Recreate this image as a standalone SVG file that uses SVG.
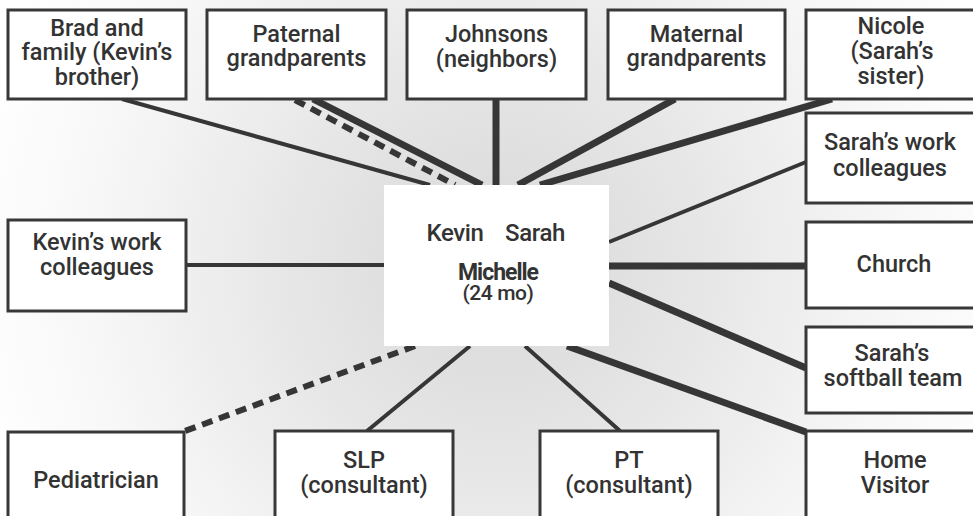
<svg xmlns="http://www.w3.org/2000/svg" width="973" height="516" viewBox="0 0 973 516">
<defs>
<radialGradient id="bg" gradientUnits="userSpaceOnUse" cx="497" cy="265" r="540">
<stop offset="0" stop-color="#d8d8d8"/>
<stop offset="0.35" stop-color="#e5e5e5"/>
<stop offset="0.75" stop-color="#f7f7f7"/>
<stop offset="1" stop-color="#ffffff"/>
</radialGradient>
<style>
.box{fill:#fff;stroke:#383838;stroke-width:3}
.t{font-family:Roboto,"Liberation Sans",Arial,sans-serif;font-weight:500;font-size:23.5px;fill:#333;text-anchor:middle;letter-spacing:0px}
.c{stroke:#363636;fill:none;stroke-linecap:butt}
.thin{stroke-width:4}
.thick{stroke-width:7}
.dash{stroke-width:6;stroke-dasharray:11 7}
</style>
</defs>
<rect x="0" y="0" width="973" height="516" fill="url(#bg)"/>
<g id="connectors">
<line class="c thin" x1="122" y1="99" x2="430" y2="185"/>
<line class="c dash" x1="295" y1="100" x2="455" y2="185"/>
<line class="c thick" x1="313" y1="99" x2="482" y2="185"/>
<line class="c thick" x1="496" y1="99" x2="496" y2="185"/>
<line class="c thick" x1="675" y1="99" x2="518" y2="185"/>
<line class="c thick" x1="832" y1="99" x2="540" y2="185"/>
<line class="c thin" x1="806" y1="162" x2="609" y2="242"/>
<line class="c thin" x1="186" y1="265" x2="384" y2="265"/>
<line class="c thick" x1="609" y1="266" x2="806" y2="266"/>
<line class="c thick" x1="609" y1="283" x2="806" y2="368"/>
<line class="c thick" x1="567" y1="346" x2="806" y2="432"/>
<line class="c thin" x1="525" y1="346" x2="620" y2="431"/>
<line class="c thin" x1="470" y1="346" x2="367" y2="431"/>
<line class="c dash" x1="415" y1="346" x2="185" y2="431"/>
</g>
<g id="center">
<rect x="384" y="185" width="225" height="161" fill="#fff"/>
<text class="t" y="241" style="font-size:24px;letter-spacing:-0.4px"><tspan x="455">Kevin</tspan><tspan x="535">Sarah</tspan></text>
<text class="t" y="280"><tspan x="498" style="font-size:23px;font-weight:bold;letter-spacing:-1px">Michelle</tspan><tspan x="498" dy="20" style="font-size:21px;letter-spacing:-0.4px">(24 mo)</tspan></text>
</g>
<g id="brad">
<rect class="box" x="8" y="10" width="178" height="89"/>
<text class="t" y="36"><tspan x="97">Brad and</tspan><tspan x="97" dy="24">family (Kevin’s</tspan><tspan x="97" dy="25">brother)</tspan></text>
</g>
<g id="paternal">
<rect class="box" x="207" y="10" width="179" height="89"/>
<text class="t" y="42"><tspan x="296.5">Paternal</tspan><tspan x="296.5" dy="24">grandparents</tspan></text>
</g>
<g id="johnsons">
<rect class="box" x="407" y="10" width="179" height="89"/>
<text class="t" y="42"><tspan x="496.5">Johnsons</tspan><tspan x="496.5" dy="25">(neighbors)</tspan></text>
</g>
<g id="maternal">
<rect class="box" x="608" y="10" width="177" height="89"/>
<text class="t" y="42"><tspan x="696.5">Maternal</tspan><tspan x="696.5" dy="24">grandparents</tspan></text>
</g>
<g id="nicole">
<rect class="box" x="806" y="10" width="180" height="89"/>
<text class="t" y="34"><tspan x="891">Nicole</tspan><tspan x="892" dy="25">(Sarah’s</tspan><tspan x="891" dy="25">sister)</tspan></text>
</g>
<g id="sarahs-work">
<rect class="box" x="806" y="113" width="180" height="90"/>
<text class="t" y="150"><tspan x="890">Sarah’s work</tspan><tspan x="890" dy="26">colleagues</tspan></text>
</g>
<g id="kevins-work">
<rect class="box" x="8" y="220" width="178" height="91"/>
<text class="t" y="250"><tspan x="97">Kevin’s work</tspan><tspan x="97" dy="25">colleagues</tspan></text>
</g>
<g id="church">
<rect class="box" x="806" y="222" width="180" height="86"/>
<text class="t" x="894" y="272">Church</text>
</g>
<g id="softball">
<rect class="box" x="806" y="327" width="180" height="86"/>
<text class="t" y="361"><tspan x="892">Sarah’s</tspan><tspan x="893" dy="25">softball team</tspan></text>
</g>
<g id="home-visitor">
<rect class="box" x="806" y="431" width="180" height="100"/>
<text class="t" y="468"><tspan x="895">Home</tspan><tspan x="895" dy="25">Visitor</tspan></text>
</g>
<g id="pt">
<rect class="box" x="540" y="431" width="178" height="100"/>
<text class="t" y="468"><tspan x="629">PT</tspan><tspan x="629" dy="25">(consultant)</tspan></text>
</g>
<g id="slp">
<rect class="box" x="275" y="431" width="178" height="100"/>
<text class="t" y="468"><tspan x="364">SLP</tspan><tspan x="364" dy="25">(consultant)</tspan></text>
</g>
<g id="pediatrician">
<rect class="box" x="8" y="432" width="176" height="100"/>
<text class="t" x="96" y="488">Pediatrician</text>
</g>
</svg>
